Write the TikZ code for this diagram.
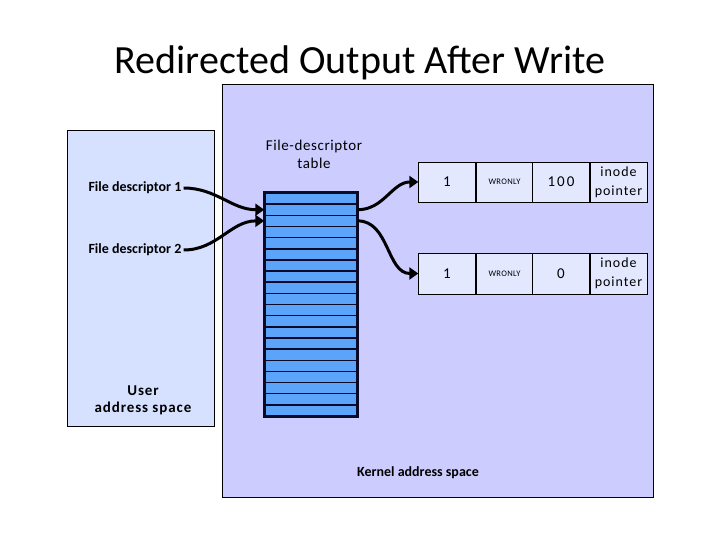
\documentclass[tikz,border=0pt]{standalone}
\usepackage{fontspec}
\setmainfont{Carlito}
\usetikzlibrary{arrows.meta}
\definecolor{kernelbg}{RGB}{204,204,255}
\definecolor{userbg}{RGB}{214,224,255}
\definecolor{rowblue}{RGB}{92,164,250}
\definecolor{rowline}{RGB}{10,10,40}
\definecolor{cellbg}{RGB}{228,232,255}

\begin{document}
\begin{tikzpicture}[x=1pt,y=-1pt,
    lbl/.style={font=\fontsize{14}{17}\selectfont\bfseries, align=center, inner sep=2pt},
    row/.style={draw=rowline, line width=1.5pt, fill=rowblue, minimum width=92pt, minimum height=11.15pt, inner sep=0pt},
    cell/.style={draw, fill=cellbg, minimum width=57pt, minimum height=40.5pt, inner sep=0pt, align=center, font=\fontsize{15}{17}\selectfont\addfontfeature{LetterSpace=14}},
    fdarrow/.style={line width=3pt, -{Triangle[length=9pt,width=12pt]}}]
        \useasboundingbox (0,0) rectangle (720,540);
        \node (title) at (360,63) {\fontsize{40}{46}\selectfont Redirected Output After Write};
        % address spaces
        \draw [fill=kernelbg] (222,84) rectangle (653,497);
        \draw [fill=userbg] (67,130) rectangle (214,426);
        \node (user) [lbl, font=\fontsize{15}{17}\selectfont\bfseries\addfontfeature{LetterSpace=6}] at (143,400) {User\\address space};
        \node (kernel) [lbl] at (418,473) {Kernel address space};
        % file-descriptor table
        \node (tabl) [align=center, font=\fontsize{15}{18}\selectfont\addfontfeature{LetterSpace=4}] at (314,154) {File-descriptor\\table};
        \foreach \i in {1,...,20}
          \node (r\i) [row] at (311,{193+(\i-0.5)*11.15}) {};
        \draw [rowline, line width=2.5pt] (r1.north west) rectangle (r20.south east);
        % open file entries
        \node (c11) [cell] at (447,182) {1};
        \node (c12) [cell, font=\fontsize{8.5}{10}\selectfont\addfontfeature{LetterSpace=4}] at (504.5,182) {WRONLY};
        \node (c13) [cell] at (561,182) {100};
        \node (c14) [cell, font=\fontsize{14}{19}\selectfont\addfontfeature{LetterSpace=7}] at (618.5,182) {inode\\pointer};
        \node (c21) [cell] at (447,273.5) {1};
        \node (c22) [cell, font=\fontsize{8.5}{10}\selectfont\addfontfeature{LetterSpace=4}] at (504.5,273.5) {WRONLY};
        \node (c23) [cell] at (561,273.5) {0};
        \node (c24) [cell, font=\fontsize{14}{19}\selectfont\addfontfeature{LetterSpace=7}] at (618.5,273.5) {inode\\pointer};
        % descriptors
        \node (fd1) [lbl] at (135,188) {File descriptor 1};
        \node (fd2) [lbl] at (135,250) {File descriptor 2};
        \draw [fdarrow] (fd1.east) to [out=0,in=180] (r2.west);
        \draw [fdarrow] (fd2.east) to [out=0,in=180] (r3.west);
        \draw [fdarrow] (r2.east) to [out=0,in=180] (c11.west);
        \draw [fdarrow] (r3.east) to [out=0,in=180] (c21.west);
\end{tikzpicture}
\end{document}
